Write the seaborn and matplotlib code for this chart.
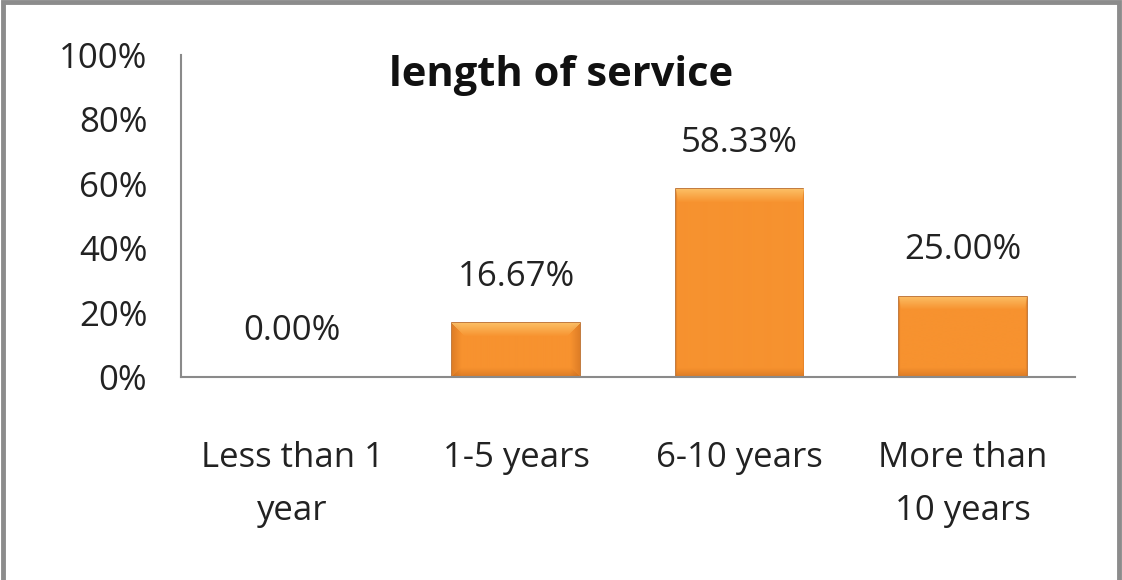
import matplotlib
matplotlib.use("Agg")
import matplotlib.pyplot as plt
import seaborn as sns
import pandas as pd
import numpy as np
from matplotlib.patches import Rectangle

categories = ["Less than 1\nyear", "1-5 years", "6-10 years", "More than\n10 years"]
values = [0.0, 16.67, 58.33, 25.00]
yticks = [0, 20, 40, 60, 80, 100]
ytick_labels = ["0%", "20%", "40%", "60%", "80%", "100%"]
title = "length of service"

sns.set_theme(style="white")
plt.rcParams['font.family'] = ['Open Sans', 'DejaVu Sans']

fig = plt.figure(figsize=(11.22, 5.8), dpi=100)
ax = fig.add_axes([0.161, 0.35, 0.797, 0.555])

df = pd.DataFrame({"cat": categories, "val": values})
sns.barplot(data=df, x="cat", y="val", ax=ax, color="#F7922F", width=0.57,
            edgecolor="#B8631C", linewidth=1.2, saturation=1)

ax.set_ylim(0, 100)
ax.set_yticks(yticks)
ax.set_yticklabels(ytick_labels, fontsize=25, color="#222222")
ax.tick_params(axis='y', length=0, pad=24)
ax.tick_params(axis='x', length=0, pad=46, labelsize=25, labelcolor="#222222")
for lbl in ax.get_xticklabels():
    lbl.set_linespacing(1.72)
ax.set_xlabel("")
ax.set_ylabel("")

for side in ["top", "right"]:
    ax.spines[side].set_visible(False)
for side in ["left", "bottom"]:
    ax.spines[side].set_color("#8A8A8A")
    ax.spines[side].set_linewidth(1.5)

# bevel shading clipped to each bar
fig.canvas.draw()
base = np.array([0xF7, 0x92, 0x2F]) / 255.0
light = np.array([0xFD, 0xC8, 0x70]) / 255.0
dark = np.array([0xC2, 0x66, 0x1C]) / 255.0
for patch in ax.patches:
    bb = patch.get_window_extent()
    w, h = int(round(bb.width)), int(round(bb.height))
    if w < 2 or h < 2:
        continue
    img = np.tile(base, (h, w, 1))
    bev = 9
    for i in range(h):
        for side_px in range(min(bev, w // 2)):
            f = (bev - side_px) / bev * 0.45
            img[i, side_px] = img[i, side_px] * (1 - f) + dark * f
            img[i, w - 1 - side_px] = img[i, w - 1 - side_px] * (1 - f) + dark * f
    for k in range(min(bev + 4, h // 2)):
        f = (bev + 4 - k) / (bev + 4) * 0.8
        img[k, k:w - k] = img[k, k:w - k] * (1 - f) + light * f
        f2 = (bev - min(k, bev)) / bev * 0.5
        img[h - 1 - k, k:w - k] = img[h - 1 - k, k:w - k] * (1 - f2) + dark * f2
    x0, y0 = patch.get_x(), patch.get_y()
    im = ax.imshow(img, extent=[x0, x0 + patch.get_width(), y0, y0 + patch.get_height()],
                   aspect="auto", zorder=patch.get_zorder() + 0.1, interpolation="bilinear")
    im.set_clip_path(patch)
ax.set_xlim(-0.5, len(categories) - 0.5)
ax.set_ylim(0, 100)

for c in ax.containers:
    ax.bar_label(c, labels=[f"{v:.2f}%" for v in values], padding=21,
                 fontsize=25, color="#222222")

fig.text(0.5, 0.87, title, ha="center", va="center", fontsize=30,
         fontweight="bold", color="#111111")

fig.patches.append(Rectangle((0.003, -0.05), 0.994, 1.047, transform=fig.transFigure,
                             fill=False, edgecolor="#8C8C8C", linewidth=3.5))

fig.savefig("out.png", dpi=100, facecolor="white")
